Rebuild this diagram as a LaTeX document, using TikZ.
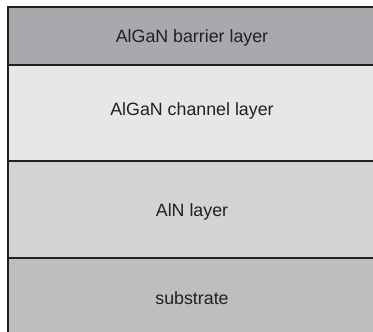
\documentclass[tikz,border=0pt]{standalone}
\usepackage{fontspec}
\setmainfont{Liberation Sans}
\definecolor{cbar}{HTML}{A7A9AC}
\definecolor{cchan}{HTML}{E6E7E8}
\definecolor{caln}{HTML}{D1D3D4}
\definecolor{csub}{HTML}{BCBEC0}
\definecolor{cline}{HTML}{231F20}
\begin{document}
\begin{tikzpicture}[x=1pt,y=-1pt,
  layer/.style={draw=none,inner sep=0pt,outer sep=0pt,minimum width=365pt,anchor=north west},
  lbl/.style={font=\fontsize{17.8}{20}\selectfont,text=cline},
  sep/.style={draw=cline,line width=1.3pt}]
\useasboundingbox (0,0) rectangle (373,332);
\fill[white] (0,0) rectangle (373,332);
\node[layer,fill=cbar,minimum height=58pt] (bar) at (8,7) {};
\node[layer,fill=cchan,minimum height=96pt] (chan) at (8,65) {};
\node[layer,fill=caln,minimum height=97pt] (aln) at (8,161) {};
\node[layer,fill=csub,minimum height=74pt] (sub) at (8,258) {};
\node[lbl] (tbar) at (192,38) {AlGaN barrier layer};
\node[lbl] (tchan) at (192,111) {AlGaN channel layer};
\node[lbl] (taln) at (192,212) {AlN layer};
\node[lbl] (tsub) at (192,298) {substrate};
\draw[sep] (bar.north east) -- (bar.north west) -- (sub.south west);
\draw[sep] (bar.south west) -- (bar.south east);
\draw[sep] (chan.south west) -- (chan.south east);
\draw[sep] (aln.south west) -- (aln.south east);
\end{tikzpicture}
\end{document}
